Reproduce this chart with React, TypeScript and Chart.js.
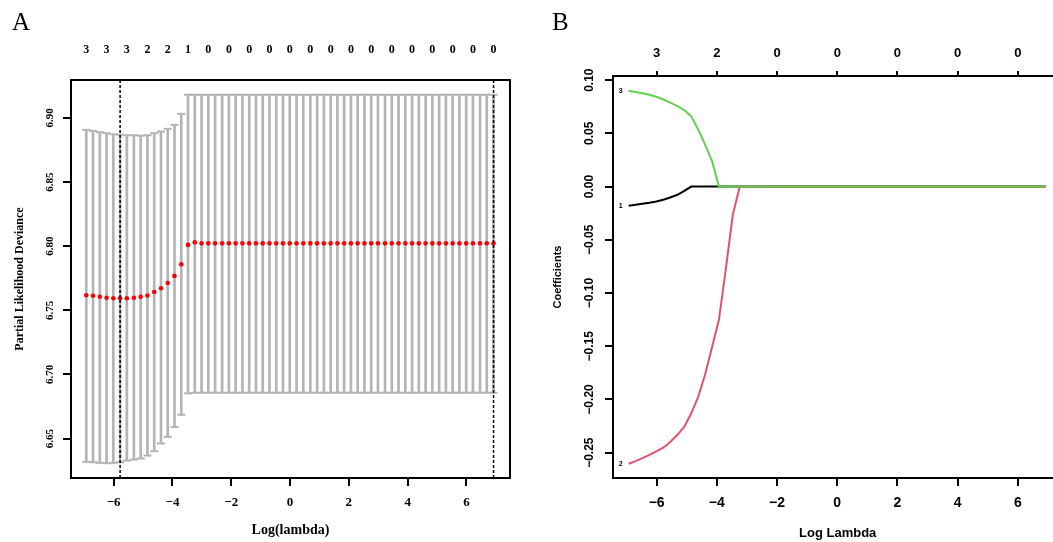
import { useEffect, useRef } from 'react';
import { Chart, registerables } from 'chart.js';

Chart.register(...registerables);

// ---------- data ----------
const logLambda = [
  -6.93, -6.70, -6.47, -6.24, -6.01, -5.78, -5.55, -5.31, -5.08, -4.85,
  -4.62, -4.39, -4.16, -3.93, -3.70, -3.47, -3.24, -3.01, -2.78, -2.55,
  -2.31, -2.08, -1.85, -1.62, -1.39, -1.16, -0.93, -0.70, -0.47, -0.24,
  -0.01, 0.22, 0.45, 0.69, 0.92, 1.15, 1.38, 1.61, 1.84, 2.07,
  2.30, 2.53, 2.76, 2.99, 3.23, 3.46, 3.69, 3.92, 4.15, 4.38,
  4.61, 4.84, 5.07, 5.30, 5.53, 5.76, 5.99, 6.22, 6.46, 6.69,
  6.92,
];

const cvMean = [
  6.7617, 6.7613, 6.7605, 6.7597, 6.7594, 6.7594, 6.7594, 6.7597, 6.7605, 6.7615,
  6.7643, 6.7672, 6.7713, 6.7768, 6.7859, 6.8010, 6.8030, 6.8022, 6.8022, 6.8022,
  6.8022, 6.8022, 6.8022, 6.8022, 6.8022, 6.8022, 6.8022, 6.8022, 6.8022, 6.8022,
  6.8022, 6.8022, 6.8022, 6.8022, 6.8022, 6.8022, 6.8022, 6.8022, 6.8022, 6.8022,
  6.8022, 6.8022, 6.8022, 6.8022, 6.8022, 6.8022, 6.8022, 6.8022, 6.8022, 6.8022,
  6.8022, 6.8022, 6.8022, 6.8022, 6.8022, 6.8022, 6.8022, 6.8022, 6.8022, 6.8022,
  6.8022,
];

const cvUpper = [
  6.8907, 6.8899, 6.8889, 6.8881, 6.8873, 6.8870, 6.8865, 6.8865, 6.8862, 6.8865,
  6.8881, 6.8894, 6.8915, 6.8946, 6.9032, 6.9181, 6.9181, 6.9181, 6.9181, 6.9181,
  6.9181, 6.9181, 6.9181, 6.9181, 6.9181, 6.9181, 6.9181, 6.9181, 6.9181, 6.9181,
  6.9181, 6.9181, 6.9181, 6.9181, 6.9181, 6.9181, 6.9181, 6.9181, 6.9181, 6.9181,
  6.9181, 6.9181, 6.9181, 6.9181, 6.9181, 6.9181, 6.9181, 6.9181, 6.9181, 6.9181,
  6.9181, 6.9181, 6.9181, 6.9181, 6.9181, 6.9181, 6.9181, 6.9181, 6.9181, 6.9181,
  6.9181,
];

const cvLower = [
  6.6318, 6.6315, 6.6310, 6.6307, 6.6310, 6.6315, 6.6328, 6.6336, 6.6344, 6.6367,
  6.6401, 6.6461, 6.6513, 6.6589, 6.6685, 6.6852, 6.6857, 6.6857, 6.6857, 6.6857,
  6.6857, 6.6857, 6.6857, 6.6857, 6.6857, 6.6857, 6.6857, 6.6857, 6.6857, 6.6857,
  6.6857, 6.6857, 6.6857, 6.6857, 6.6857, 6.6857, 6.6857, 6.6857, 6.6857, 6.6857,
  6.6857, 6.6857, 6.6857, 6.6857, 6.6857, 6.6857, 6.6857, 6.6857, 6.6857, 6.6857,
  6.6857, 6.6857, 6.6857, 6.6857, 6.6857, 6.6857, 6.6857, 6.6857, 6.6857, 6.6857,
  6.6857,
];

const logLambdaMin = -5.78;
const logLambda1se = 6.92;

const dfTickLambdaA = [
  -6.93, -6.24, -5.55, -4.85, -4.16, -3.47, -2.78, -2.08, -1.39, -0.70,
  -0.01, 0.69, 1.38, 2.07, 2.76, 3.46, 4.15, 4.84, 5.53, 6.22, 6.92,
];
const dfLabelsA = ['3', '3', '3', '2', '2', '1', '0', '0', '0', '0', '0', '0', '0', '0', '0', '0', '0', '0', '0', '0', '0'];

const xTicks = [-6, -4, -2, 0, 2, 4, 6];
const yTicksA = [6.65, 6.70, 6.75, 6.80, 6.85, 6.90];
const yTicksB = [-0.25, -0.20, -0.15, -0.10, -0.05, 0, 0.05, 0.10];

const dfTickB = [-6, -4, -2, 0, 2, 4, 6];
const dfLabelsB = ['3', '2', '0', '0', '0', '0', '0'];

const coefVar1 = [
  -0.0181, -0.0171, -0.0161, -0.0152, -0.0141, -0.0124, -0.0103, -0.0077, -0.0040, 0,
  0, 0, 0, 0, 0, 0, 0, 0, 0, 0,
  0, 0, 0, 0, 0, 0, 0, 0, 0, 0,
  0, 0, 0, 0, 0, 0, 0, 0, 0, 0,
  0, 0, 0, 0, 0, 0, 0, 0, 0, 0,
  0, 0, 0, 0, 0, 0, 0, 0, 0, 0,
  0,
];
const coefVar2 = [
  -0.2604, -0.2579, -0.2551, -0.2520, -0.2487, -0.2453, -0.2400, -0.2332, -0.2255, -0.2130,
  -0.1975, -0.1765, -0.1510, -0.1250, -0.0770, -0.0265, 0, 0, 0, 0,
  0, 0, 0, 0, 0, 0, 0, 0, 0, 0,
  0, 0, 0, 0, 0, 0, 0, 0, 0, 0,
  0, 0, 0, 0, 0, 0, 0, 0, 0, 0,
  0, 0, 0, 0, 0, 0, 0, 0, 0, 0,
  0,
];
const coefVar3 = [
  0.0901, 0.0889, 0.0876, 0.0862, 0.0844, 0.0818, 0.0789, 0.0757, 0.0718, 0.0660,
  0.0537, 0.0394, 0.0240, 0, 0, 0, 0, 0, 0, 0,
  0, 0, 0, 0, 0, 0, 0, 0, 0, 0,
  0, 0, 0, 0, 0, 0, 0, 0, 0, 0,
  0, 0, 0, 0, 0, 0, 0, 0, 0, 0,
  0, 0, 0, 0, 0, 0, 0, 0, 0, 0,
  0,
];
const varNames = ['1', '2', '3'];

// ---------- styling ----------
const X_MIN = -7.45;
const X_MAX = 7.48;
const Y_MIN_A = 6.6192;
const Y_MAX_A = 6.9296;
const Y_MIN_B = -0.2738;
const Y_MAX_B = 0.1039;

const SERIF = '"Liberation Serif", "DejaVu Serif", serif';
const SANS = '"Liberation Sans", "DejaVu Sans", Arial, sans-serif';
const GREY = '#B4B4B4';
const BLACK = '#000000';
const RED_PATH = '#DF536B';
const GREEN_PATH = '#61D04F';

const fmt = (v: number, d: number) => {
  const s = Math.abs(v).toFixed(d);
  return v < -1e-9 ? '\u2212' + s : s;
};

const setTicks = (vals: number[]) => (s: any) => {
  s.ticks = vals.map((v) => ({ value: v }));
};

export default function App() {
  const refA = useRef<HTMLCanvasElement>(null);
  const refB = useRef<HTMLCanvasElement>(null);

  useEffect(() => {
    if (!refA.current || !refB.current) return;

    const chartA = new Chart(refA.current, {
      type: 'scatter',
      data: {
        datasets: [
          {
            type: 'bar',
            data: logLambda.map((x, i) => ({ x, y: [cvLower[i], cvUpper[i]] })) as any,
            backgroundColor: GREY,
            borderWidth: 0,
            barThickness: 2,
            order: 4,
          } as any,
          {
            type: 'scatter',
            data: logLambda.map((x, i) => ({ x, y: cvUpper[i] })),
            pointStyle: 'line',
            pointRadius: 4,
            pointBorderWidth: 2,
            pointBorderColor: GREY,
            order: 3,
          } as any,
          {
            type: 'scatter',
            data: logLambda.map((x, i) => ({ x, y: cvLower[i] })),
            pointStyle: 'line',
            pointRadius: 4,
            pointBorderWidth: 2,
            pointBorderColor: GREY,
            order: 3,
          } as any,
          {
            type: 'scatter',
            data: logLambda.map((x, i) => ({ x, y: cvMean[i] })),
            pointStyle: 'circle',
            pointRadius: 2.3,
            pointBorderWidth: 0,
            pointBackgroundColor: '#FF0000',
            order: 2,
          } as any,
          {
            type: 'line',
            data: [
              { x: logLambdaMin, y: Y_MIN_A },
              { x: logLambdaMin, y: Y_MAX_A },
            ],
            borderColor: BLACK,
            borderWidth: 1.5,
            borderDash: [3, 2],
            pointRadius: 0,
            fill: false,
            order: 1,
          } as any,
          {
            type: 'line',
            data: [
              { x: logLambda1se, y: Y_MIN_A },
              { x: logLambda1se, y: Y_MAX_A },
            ],
            borderColor: BLACK,
            borderWidth: 1.5,
            borderDash: [3, 2],
            pointRadius: 0,
            fill: false,
            order: 1,
          } as any,
        ],
      },
      options: {
        animation: false,
        responsive: false,
        maintainAspectRatio: false,
        devicePixelRatio: 1,
        events: [],
        layout: { padding: 0 },
        plugins: { legend: { display: false }, tooltip: { enabled: false } },
        scales: {
          x: {
            type: 'linear',
            position: 'bottom',
            min: X_MIN,
            max: X_MAX,
            offset: false,
            afterBuildTicks: setTicks(xTicks),
            afterFit: (s: any) => { s.height = 64; },
            ticks: {
              autoSkip: false, maxRotation: 0, minRotation: 0, padding: 8.7, color: BLACK,
              font: { family: SERIF, size: 13, weight: 'bold' },
              callback: (v: any) => fmt(Number(v), 0),
            },
            grid: { display: true, drawOnChartArea: false, drawTicks: true, tickLength: 8, color: BLACK, lineWidth: 2, offset: false },
            border: { display: true, color: BLACK, width: 2 },
            title: {
              display: true, text: 'Log(lambda)', color: BLACK,
              font: { family: SERIF, size: 14, weight: 'bold' },
              padding: { top: 0, bottom: 3.6 },
            },
          },
          xTop: {
            type: 'linear',
            position: 'top',
            min: X_MIN,
            max: X_MAX,
            offset: false,
            afterBuildTicks: setTicks(dfTickLambdaA),
            afterFit: (s: any) => { s.height = 80; },
            ticks: {
              autoSkip: false, maxRotation: 0, minRotation: 0, padding: 15.1, color: BLACK,
              font: { family: SERIF, size: 12, weight: 'bold' },
              callback: (_v: any, i: number) => dfLabelsA[i],
            },
            grid: { display: false },
            border: { display: true, color: BLACK, width: 2 },
          },
          y: {
            type: 'linear',
            position: 'left',
            min: Y_MIN_A,
            max: Y_MAX_A,
            afterBuildTicks: setTicks(yTicksA),
            afterFit: (s: any) => { s.width = 71; },
            ticks: {
              autoSkip: false, minRotation: 90, maxRotation: 90, crossAlign: 'center', padding: 3.4, color: BLACK,
              font: { family: SERIF, size: 11, weight: 'bold' },
              callback: (v: any) => fmt(Number(v), 2),
            },
            grid: { display: true, drawOnChartArea: false, drawTicks: true, tickLength: 8, color: BLACK, lineWidth: 2 },
            border: { display: true, color: BLACK, width: 2 },
            title: {
              display: true, text: 'Partial Likelihood Deviance', color: BLACK,
              font: { family: SERIF, size: 12, weight: 'bold' },
              padding: { top: 12.3, bottom: 0 },
            },
          },
          yRight: {
            type: 'linear',
            position: 'right',
            min: Y_MIN_A,
            max: Y_MAX_A,
            afterFit: (s: any) => { s.width = 20; },
            ticks: { display: false },
            grid: { display: false },
            border: { display: true, color: BLACK, width: 2 },
          },
        },
      } as any,
    });

    const varLabelPlugin = {
      id: 'varLabels',
      afterDatasetsDraw(chart: any) {
        const { ctx, scales } = chart;
        const xs = scales.x;
        const ys = scales.y;
        const starts = [coefVar1[0], coefVar2[0], coefVar3[0]];
        ctx.save();
        ctx.font = `bold 7px ${SANS}`;
        ctx.fillStyle = BLACK;
        ctx.textAlign = 'right';
        ctx.textBaseline = 'middle';
        starts.forEach((v, k) => {
          ctx.fillText(varNames[k], xs.getPixelForValue(logLambda[0]) - 6, ys.getPixelForValue(v));
        });
        ctx.restore();
      },
    };

    const chartB = new Chart(refB.current, {
      type: 'scatter',
      data: {
        datasets: [
          {
            type: 'line',
            label: '1',
            data: logLambda.map((x, i) => ({ x, y: coefVar1[i] })),
            borderColor: BLACK,
            borderWidth: 2,
            pointRadius: 0,
            fill: false,
            order: 3,
          } as any,
          {
            type: 'line',
            label: '2',
            data: logLambda.map((x, i) => ({ x, y: coefVar2[i] })),
            borderColor: RED_PATH,
            borderWidth: 2,
            pointRadius: 0,
            fill: false,
            order: 2,
          } as any,
          {
            type: 'line',
            label: '3',
            data: logLambda.map((x, i) => ({ x, y: coefVar3[i] })),
            borderColor: GREEN_PATH,
            borderWidth: 2,
            pointRadius: 0,
            fill: false,
            order: 1,
          } as any,
        ],
      },
      options: {
        animation: false,
        responsive: false,
        maintainAspectRatio: false,
        devicePixelRatio: 1,
        events: [],
        layout: { padding: { left: 0, top: 0, bottom: 0, right: 12.6 } },
        plugins: { legend: { display: false }, tooltip: { enabled: false } },
        scales: {
          x: {
            type: 'linear',
            position: 'bottom',
            min: X_MIN,
            max: X_MAX,
            offset: false,
            afterBuildTicks: setTicks(xTicks),
            afterFit: (s: any) => { s.height = 64; },
            ticks: {
              autoSkip: false, maxRotation: 0, minRotation: 0, padding: 8.6, color: BLACK,
              font: { family: SANS, size: 14, weight: 'bold' },
              callback: (v: any) => fmt(Number(v), 0),
            },
            grid: { display: true, drawOnChartArea: false, drawTicks: true, tickLength: 8, color: BLACK, lineWidth: 2 },
            border: { display: true, color: BLACK, width: 2 },
            title: {
              display: true, text: 'Log Lambda', color: BLACK,
              font: { family: SANS, size: 13, weight: 'bold' },
              padding: { top: 0, bottom: 1.2 },
            },
          },
          xTop: {
            type: 'linear',
            position: 'top',
            min: X_MIN,
            max: X_MAX,
            offset: false,
            afterBuildTicks: setTicks(dfTickB),
            afterFit: (s: any) => { s.height = 76; },
            ticks: {
              autoSkip: false, maxRotation: 0, minRotation: 0, padding: 9.9, color: BLACK,
              font: { family: SANS, size: 13, weight: 'bold' },
              callback: (_v: any, i: number) => dfLabelsB[i],
            },
            grid: { display: true, drawOnChartArea: false, drawTicks: true, tickLength: 5, color: BLACK, lineWidth: 2 },
            border: { display: true, color: BLACK, width: 2 },
          },
          y: {
            type: 'linear',
            position: 'left',
            min: Y_MIN_B,
            max: Y_MAX_B,
            afterBuildTicks: setTicks(yTicksB),
            afterFit: (s: any) => { s.width = 83; },
            ticks: {
              autoSkip: false, minRotation: 90, maxRotation: 90, crossAlign: 'center', padding: 0, color: BLACK,
              font: { family: SANS, size: 12, weight: 'bold' },
              callback: (v: any) => fmt(Number(v), 2),
            },
            grid: { display: true, drawOnChartArea: false, drawTicks: true, tickLength: 8, color: BLACK, lineWidth: 2 },
            border: { display: true, color: BLACK, width: 2 },
            title: {
              display: true, text: 'Coefficients', color: BLACK,
              font: { family: SANS, size: 11, weight: 'bold' },
              padding: { top: 21.4, bottom: 0 },
            },
          },
        },
      } as any,
      plugins: [varLabelPlugin],
    });

    return () => {
      chartA.destroy();
      chartB.destroy();
    };
  }, []);

  return (
    <div
      style={{
        position: 'fixed', left: 0, top: 0, width: 1053, height: 542,
        overflow: 'hidden', background: '#ffffff',
      }}
    >
      <canvas
        ref={refA}
        width={530}
        height={542}
        style={{ position: 'absolute', left: 0, top: 0, width: 530, height: 542 }}
      />
      <canvas
        ref={refB}
        width={545}
        height={542}
        style={{ position: 'absolute', left: 530, top: 0, width: 545, height: 542 }}
      />
      <div style={{ position: 'absolute', left: 12, top: 9, fontFamily: SERIF, fontSize: 25, lineHeight: 1, color: '#000' }}>A</div>
      <div style={{ position: 'absolute', left: 552, top: 9, fontFamily: SERIF, fontSize: 25, lineHeight: 1, color: '#000' }}>B</div>
    </div>
  );
}
